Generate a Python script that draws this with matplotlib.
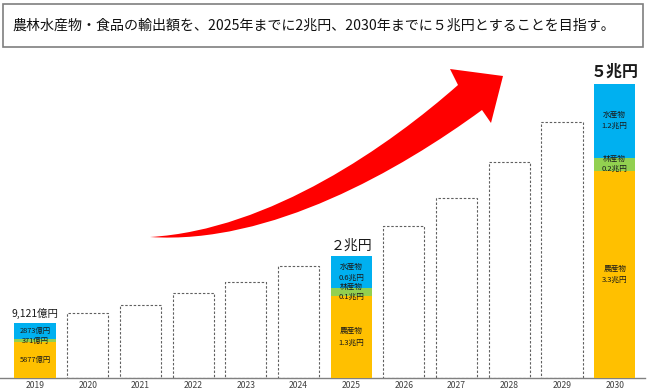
import matplotlib
matplotlib.use("Agg")
import matplotlib.pyplot as plt
from matplotlib.patches import Rectangle, PathPatch
from matplotlib.path import Path
from matplotlib.transforms import Affine2D

plt.rcParams['font.family'] = ['Noto Sans CJK JP', 'DejaVu Sans']

# ---- data (兆円) ----
years = ['2019', '2020', '2021', '2022', '2023', '2024',
         '2025', '2026', '2027', '2028', '2029', '2030']
outline_years = ['2020', '2021', '2022', '2023', '2024',
                 '2026', '2027', '2028', '2029']
outline_values = [1.09, 1.24, 1.43, 1.63, 1.89, 2.57, 3.06, 3.66, 4.35]

stack_years = ['2019', '2025', '2030']
agri = [0.61, 1.38, 3.52]
forest = [0.039, 0.14, 0.22]
fish = [0.284, 0.54, 1.26]

agri_labels = ['5877億円', '農産物\n1.3兆円', '農産物\n3.3兆円']
forest_labels = ['371億円', '林産物\n0.1兆円', '林産物\n0.2兆円']
fish_labels = ['2873億円', '水産物\n0.6兆円', '水産物\n1.2兆円']
total_labels = ['9,121億円', '２兆円', '５兆円']

title = '農林水産物・食品の輸出額を、2025年までに2兆円、2030年までに５兆円とすることを目指す。'

W, H = 650, 391
fig = plt.figure(figsize=(W / 100, H / 100), dpi=100)
fig.patch.set_facecolor('white')

# axes geometry in pixels
base_px = 377.5
top_px = 40.0
px_per_unit = 58.8
slot = 52.7
ax = fig.add_axes([0, (H - base_px) / H, 645 / W, (base_px - top_px) / H])
ax.set_xlim(-35 / slot, (645 - 35) / slot)
ax.set_ylim(0, (base_px - top_px) / px_per_unit)
ax.set_facecolor('none')
for s in ['top', 'right', 'left']:
    ax.spines[s].set_visible(False)
ax.spines['bottom'].set_color('#808080')
ax.spines['bottom'].set_linewidth(1.0)
ax.set_yticks([])
ax.set_xticks(range(len(years)))
ax.set_xticklabels(years, fontsize=6.2, color='#404040')
ax.tick_params(axis='x', length=0, pad=2.5)

bw = 0.78
pos = {y: i for i, y in enumerate(years)}

# dashed outline bars
ax.bar([pos[y] for y in outline_years], outline_values, width=bw,
       fill=False, edgecolor='#606060', linewidth=0.8,
       linestyle=(0, (2.2, 1.6)), zorder=2)

# stacked bars
xs = [pos[y] for y in stack_years]
c_agri, c_for, c_fish = '#FFC000', '#92D050', '#00B0F0'
ax.bar(xs, agri, width=bw, color=c_agri, zorder=3)
ax.bar(xs, forest, width=bw, bottom=agri, color=c_for, zorder=3)
b2 = [a + f for a, f in zip(agri, forest)]
ax.bar(xs, fish, width=bw, bottom=b2, color=c_fish, zorder=3)

tc = '#1a1a1a'
for i, x in enumerate(xs):
    fs = 5.3 if i == 0 else 5.5
    ax.text(x, agri[i] / 2, agri_labels[i], ha='center', va='center',
            fontsize=fs, color=tc, linespacing=1.55, zorder=4)
    ax.text(x, agri[i] + forest[i] / 2, forest_labels[i], ha='center',
            va='center', fontsize=fs, color=tc, linespacing=1.35, zorder=4)
    ax.text(x, b2[i] + fish[i] / 2, fish_labels[i], ha='center',
            va='center', fontsize=fs, color=tc, linespacing=1.55, zorder=4)

tot = [b + f for b, f in zip(b2, fish)]
styles = [dict(fontsize=7.5, fontweight='normal'),
          dict(fontsize=10, fontweight='normal'),
          dict(fontsize=11.5, fontweight='bold')]
for i, x in enumerate(xs):
    ax.annotate(total_labels[i], (x, tot[i]), xytext=(0, 2.5),
                textcoords='offset points', ha='center', va='bottom',
                color='#1a1a1a', **styles[i])

# pixel transform for decorations (origin top-left)
pix = Affine2D().scale(1 / W, -1 / H).translate(0, 1) + fig.transFigure

# title box
fig.patches.append(Rectangle((3, 4), 640, 43, transform=pix, fill=False,
                             edgecolor='#7f7f7f', linewidth=1.2))
fig.text(12 / W, 1 - 26 / H, title, ha='left', va='center', fontsize=10.1,
         color='#111111')

# red curved arrow
verts = [
    (150, 237),
    (270, 230), (390, 145), (458, 85),   # upper edge
    (450, 69),                           # head upper corner
    (503, 76),                           # tip
    (491, 123),                          # head lower corner
    (482, 110),                          # neck lower
    (400, 170), (270, 245), (150, 237),  # lower edge back to tail
    (150, 237),
]
codes = [Path.MOVETO,
         Path.CURVE4, Path.CURVE4, Path.CURVE4,
         Path.LINETO, Path.LINETO, Path.LINETO, Path.LINETO,
         Path.CURVE4, Path.CURVE4, Path.CURVE4,
         Path.CLOSEPOLY]
fig.patches.append(PathPatch(Path(verts, codes), transform=pix,
                             facecolor='#FF0000', edgecolor='none'))

fig.savefig('out.png', dpi=100)
